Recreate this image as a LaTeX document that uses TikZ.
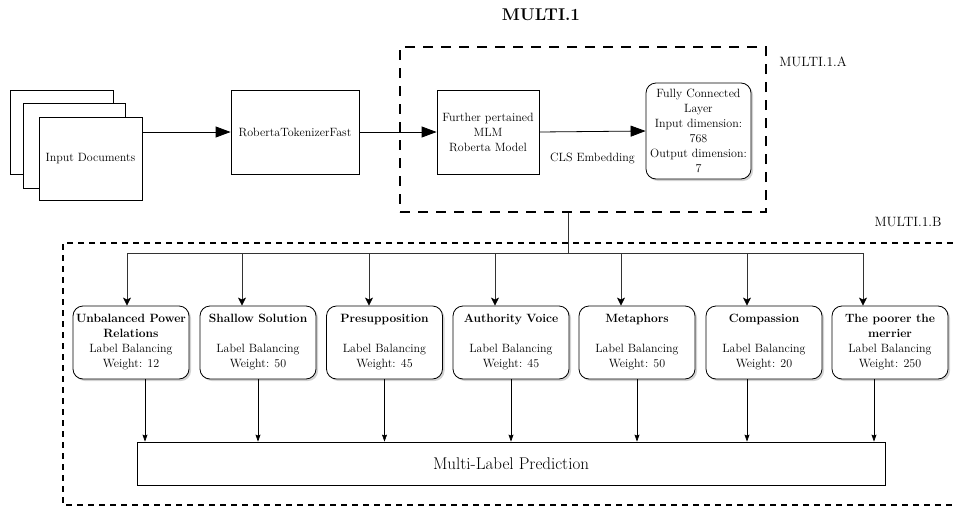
\documentclass[tikz,border=0pt]{standalone}
\usetikzlibrary{arrows.meta, positioning, shadows}

\begin{document}
\begin{tikzpicture}[x=1pt, y=-1pt, font=\fontsize{12}{15}\selectfont,
    box/.style={draw, line width=0.8pt, fill=white, align=center, inner sep=1pt},
    roundbox/.style={box, rounded corners=10pt,
        drop shadow={opacity=0.35, shadow xshift=2pt, shadow yshift=-2pt}},
    bigarrow/.style={line width=0.8pt, -{Triangle[length=15pt, width=11pt]}},
    branch/.style={line width=0.8pt, black!80, -{Stealth[length=8pt, width=8pt, inset=2pt, black]}},
    smallarrow/.style={line width=0.6pt, -{Stealth[length=7pt, width=5pt, inset=1pt]}}]
    \useasboundingbox (0,0) rectangle (953,506);

    % headings
    \node[font=\fontsize{17}{20}\selectfont\bfseries] (title) at (541,15) {MULTI.1};
    \node[font=\fontsize{13.5}{16}\selectfont] (labA) at (813,62) {MULTI.1.A};
    \node[font=\fontsize{13.5}{16}\selectfont] (labB) at (908,222) {MULTI.1.B};

    % groups
    \node[draw, line width=2.6pt, dash pattern=on 10pt off 8pt,
          minimum width=366, minimum height=165] (grpA) at (583,129.5) {};
    \draw[line width=1.6pt, dash pattern=on 6pt off 5pt]
          (953,243) -- (63,243) -- (63,505) -- (953,505);

    % input stack
    \node[box, minimum width=103, minimum height=84] (doc3) at (61.5,132) {};
    \node[box, minimum width=102, minimum height=85] (doc2) at (74,145.5) {};
    \node[box, minimum width=103, minimum height=83] (docs) at (90.5,158.5) {Input Documents};

    \node[box, minimum width=128, minimum height=84] (tok) at (295,132) {RobertaTokenizerFast};
    \node[box, minimum width=102, minimum height=84] (mlm) at (488,132)
          {Further pertained\\MLM\\Roberta Model};
    \node[roundbox, minimum width=105, minimum height=96] (fc) at (698.5,131)
          {Fully Connected\\Layer\\Input dimension:\\768\\Output dimension:\\7};

    \draw[bigarrow] (docs.east |- tok.west) -- (tok.west);
    \draw[bigarrow] (tok.east) -- (mlm.west);
    \draw[bigarrow] (mlm.east) -- node[below=18pt] (cls) {CLS Embedding} (fc.west);

    % classes
    \foreach \n/\x/\t/\w in {u1/131/{\textbf{Unbalanced Power}\\\textbf{Relations}\\}/12,
                             u2/258/{\textbf{Shallow Solution}\\[15pt]}/50,
                             u3/384.5/{\textbf{Presupposition}\\[15pt]}/45,
                             u4/511/{\textbf{Authority Voice}\\[15pt]}/45,
                             u5/637/{\textbf{Metaphors}\\[15pt]}/50,
                             u6/764/{\textbf{Compassion}\\[15pt]}/20,
                             u7/890/{\textbf{The poorer the}\\\textbf{merrier}\\}/250}
        \node[roundbox, minimum width=116, minimum height=73] (\n) at (\x,342.5)
              {\t Label Balancing\\Weight: \w};

    \node[box, minimum width=748, minimum height=43, font=\fontsize{17}{20}\selectfont]
          (pred) at (511,463.5) {Multi-Label Prediction};

    % fan out
    \coordinate (bus) at (568,253);
    \draw[line width=0.8pt, black!80] ([xshift=-15pt]grpA.south) -- (bus);
    \foreach \n/\dx in {u1/-4, u2/-16, u3/-15.5, u4/-16, u5/-16, u6/-17, u7/-27}
        \path ([xshift=\dx pt]\n.north) coordinate (in\n);
    \draw[line width=0.8pt, black!80] (bus -| inu1) -- (bus -| inu7);
    \foreach \n in {u1, u2, u3, u4, u5, u6, u7}
        \draw[branch] (bus -| in\n) -- (in\n);

    % fan in
    \foreach \n/\dx in {u1/14, u2/0, u3/0, u4/0, u5/0, u6/-17, u7/-16}
        \draw[smallarrow] ([xshift=\dx pt]\n.south) -- ([xshift=\dx pt]\n.south |- pred.north);
\end{tikzpicture}
\end{document}
